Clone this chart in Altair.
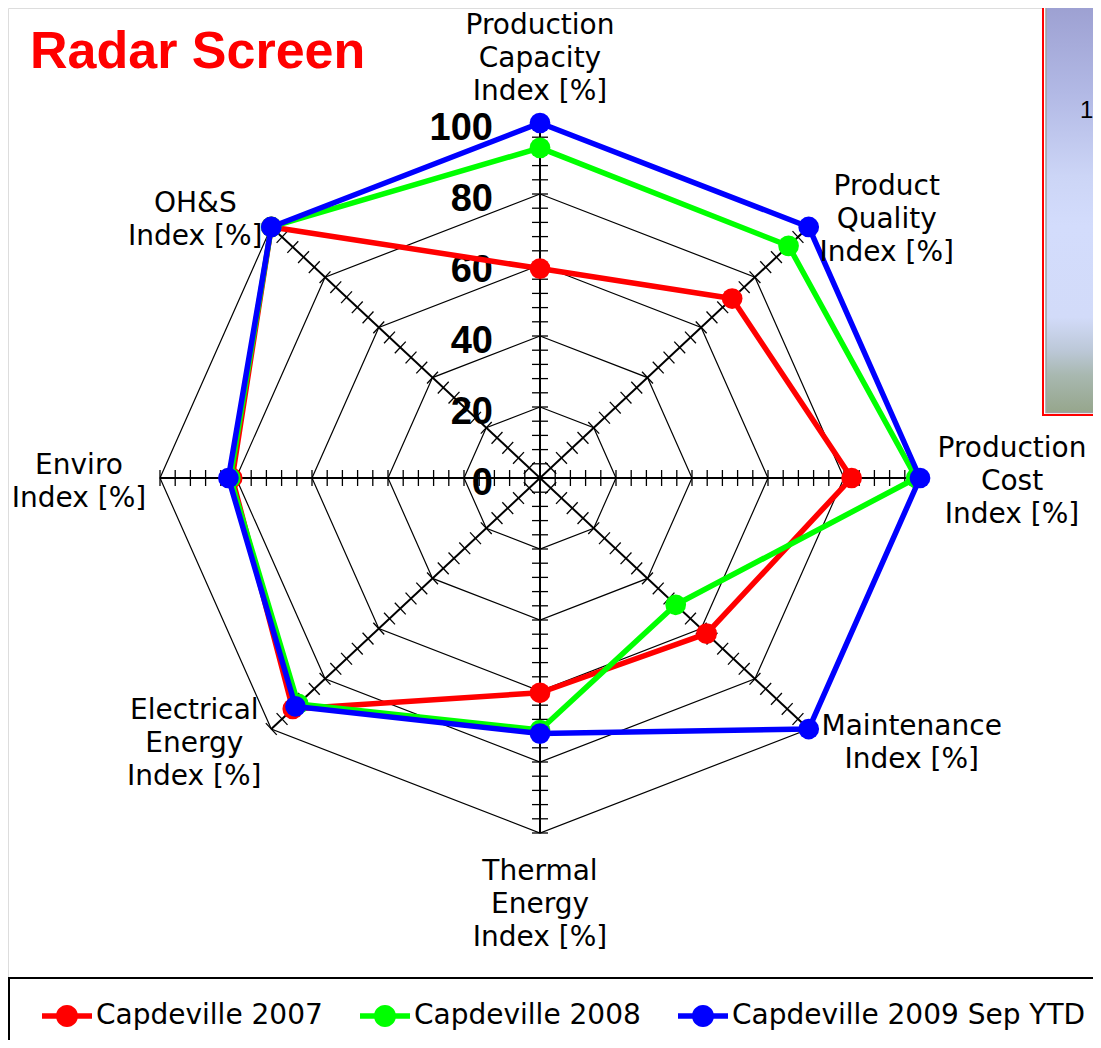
import math
import numpy as np
import pandas as pd
import altair as alt

# ---------------- data ----------------
categories = [
    "Production\nCapacity\nIndex [%]",
    "Product\nQuality\nIndex [%]",
    "Production\nCost\nIndex [%]",
    "Maintenance\nIndex [%]",
    "Thermal\nEnergy\nIndex [%]",
    "Electrical\nEnergy\nIndex [%]",
    "Enviro\nIndex [%]",
    "OH&S\nIndex [%]",
]
series_names = ["Capdeville 2007", "Capdeville 2008", "Capdeville 2009 Sep YTD"]
values_2007 = [59, 71.5, 82, 62, 60.5, 92, 81, 100]
values_2008 = [93, 92.5, 99, 50.5, 71, 90, 81.5, 100]
values_2009 = [100, 100, 100, 100, 72, 91, 82, 100]
series_values = [values_2007, values_2008, values_2009]
series_colors = ["#ff0000", "#00ff00", "#0000ff"]
grid_levels = [20, 40, 60, 80, 100]
value_labels = [0, 20, 40, 60, 80, 100]
minor_step = 4
max_value = 100
title_text = "Radar Screen"
side_panel_text = "1"

# ---------------- layout ----------------
W, H = 1085, 1032
PX_X, PX_Y = 3.8, 3.55          # pixels per value unit
CX, CY = 532.0, 470.0           # centre of the radar in chart pixels
x_dom = [-CX / PX_X, (W - CX) / PX_X]
y_dom = [-(H - CY) / PX_Y, CY / PX_Y]
TICK_HALF_PX = 8
LABEL_OFFSETS_PX = [(0, -111), (78, -54), (92, -43), (103, -16),
                    (0, 25), (-77, -32), (-81, -26), (-76, -37)]

n = len(categories)
angles = [math.pi / 2 - i * 2 * math.pi / n for i in range(n)]

# ---------------- tables ----------------
series_rows = []
for name, vals in zip(series_names, series_values):
    for k in range(n + 1):
        i = k % n
        series_rows.append(dict(series=name, ord=k, value=vals[i],
                                x=vals[i] * math.cos(angles[i]),
                                y=vals[i] * math.sin(angles[i])))
series_df = pd.DataFrame(series_rows)

grid_rows = []
for lv in grid_levels:
    for k in range(n + 1):
        i = k % n
        grid_rows.append(dict(level=lv, ord=k,
                              x=lv * math.cos(angles[i]), y=lv * math.sin(angles[i])))
grid_df = pd.DataFrame(grid_rows)

spoke_df = pd.DataFrame([dict(x=0.0, y=0.0,
                              x2=max_value * math.cos(a), y2=max_value * math.sin(a))
                         for a in angles])

tick_rows = []
for a in angles:
    dx, dy = PX_X * math.cos(a), PX_Y * math.sin(a)
    L = math.hypot(dx, dy)
    px, py = -dy / L, dx / L
    ox, oy = TICK_HALF_PX * px / PX_X, TICK_HALF_PX * py / PX_Y
    for v in range(minor_step, max_value + 1, minor_step):
        cx, cy = v * math.cos(a), v * math.sin(a)
        tick_rows.append(dict(x=cx - ox, y=cy - oy, x2=cx + ox, y2=cy + oy))
tick_df = pd.DataFrame(tick_rows)

vlabel_df = pd.DataFrame(dict(x=[0.0] * len(value_labels), y=value_labels,
                              text=[str(v) for v in value_labels]))

cat_rows = []
for i, (c, a) in enumerate(zip(categories, angles)):
    ox, oy = LABEL_OFFSETS_PX[i]
    cat_rows.append(dict(text=c,
                         x=max_value * math.cos(a) + ox / PX_X,
                         y=max_value * math.sin(a) - oy / PX_Y))
cat_df = pd.DataFrame(cat_rows)

one = pd.DataFrame({"a": [0]})

# ---------------- encodings ----------------
xs = alt.Scale(domain=x_dom, nice=False, zero=False)
ys = alt.Scale(domain=y_dom, nice=False, zero=False)
X = alt.X("x:Q", scale=xs, axis=None)
Y = alt.Y("y:Q", scale=ys, axis=None)
color_scale = alt.Scale(domain=series_names, range=series_colors)

LEGEND_SYMBOL = ("M-1 -0.11 L1 -0.11 L1 0.11 L-1 0.11 Z "
                 "M0.44 0 A0.44 0.44 0 1 1 -0.44 0 A0.44 0.44 0 1 1 0.44 0 Z")
legend = alt.Legend(title=None, orient="none", legendX=34, legendY=983,
                    direction="horizontal", symbolType=LEGEND_SYMBOL,
                    symbolSize=2500, symbolStrokeWidth=0, symbolOpacity=1,
                    labelFont="DejaVu Sans", labelFontSize=28, labelColor="black",
                    labelOffset=4, columnPadding=37, labelLimit=1000, padding=0)

layers = []

# side panel (cropped neighbouring chart)
layers.append(alt.Chart(one).mark_rect(fill="white", stroke="#ff0000", strokeWidth=2).encode(
    x=alt.value(1035), x2=alt.value(1200), y=alt.value(-10), y2=alt.value(407)))
grad = {"gradient": "linear", "x1": 0, "y1": 0, "x2": 0, "y2": 1,
        "stops": [{"offset": 0.0, "color": "#9b9ed0"},
                  {"offset": 0.23, "color": "#b2b9e5"},
                  {"offset": 0.43, "color": "#ccd5f6"},
                  {"offset": 0.55, "color": "#d3dcfc"},
                  {"offset": 0.77, "color": "#d2dbf9"},
                  {"offset": 0.85, "color": "#bcc8d8"},
                  {"offset": 0.91, "color": "#a8b8b0"},
                  {"offset": 1.0, "color": "#96a68c"}]}
layers.append(alt.Chart(one).mark_rect(fill=grad, stroke="#a0a0a0", strokeWidth=1.5).encode(
    x=alt.value(1038), x2=alt.value(1200), y=alt.value(-10), y2=alt.value(404.5)))
layers.append(alt.Chart(one).mark_text(text=side_panel_text, font="Liberation Sans",
                                       fontSize=24, align="left", baseline="middle",
                                       color="black").encode(
    x=alt.value(1072), y=alt.value(103)))

# grid, spokes, ticks
layers.append(alt.Chart(grid_df).mark_line(color="black", strokeWidth=1.2).encode(
    x=X, y=Y, detail="level:N", order="ord:Q"))
layers.append(alt.Chart(spoke_df).mark_rule(color="black", strokeWidth=2).encode(
    x=X, y=Y, x2="x2:Q", y2="y2:Q"))
layers.append(alt.Chart(tick_df).mark_rule(color="black", strokeWidth=1.3).encode(
    x=X, y=Y, x2="x2:Q", y2="y2:Q"))

# value labels
layers.append(alt.Chart(vlabel_df).mark_text(font="Liberation Sans", fontWeight="bold",
                                             fontSize=38, align="right", baseline="middle",
                                             dx=-47, dy=6, color="black").encode(
    x=X, y=Y, text="text:N"))

# series: line then markers, drawn series by series
for name, col in zip(series_names, series_colors):
    d = series_df[series_df.series == name]
    layers.append(alt.Chart(d).mark_line(strokeWidth=5.5, strokeJoin="round",
                                         color=col).encode(
        x=X, y=Y, order="ord:Q"))
    layers.append(alt.Chart(d[d.ord < n]).mark_point(filled=True, size=430, opacity=1,
                                                     strokeWidth=0).encode(
        x=X, y=Y,
        color=alt.Color("series:N", scale=color_scale, legend=legend)))

# category labels
layers.append(alt.Chart(cat_df).mark_text(font="DejaVu Sans", fontSize=28, lineBreak="\n",
                                          lineHeight=33, align="center", baseline="top",
                                          color="black").encode(
    x=X, y=Y, text="text:N"))

# title
layers.append(alt.Chart(one).mark_text(text=title_text, font="Liberation Sans",
                                       fontWeight="bold", fontSize=52, align="left",
                                       baseline="alphabetic", color="#ff0000").encode(
    x=alt.value(22), y=alt.value(60)))

# legend frame
layers.append(alt.Chart(one).mark_rect(fillOpacity=0, stroke="black", strokeWidth=2).encode(
    x=alt.value(1), x2=alt.value(1200), y=alt.value(970), y2=alt.value(1200)))

chart = alt.layer(*layers).properties(
    width=W, height=H, padding=0, autosize=alt.AutoSizeParams(type="none")
).configure_view(strokeWidth=0, stroke="transparent").configure(background="white")

chart.save("out.html", embed_options={"renderer": "svg", "actions": False})
